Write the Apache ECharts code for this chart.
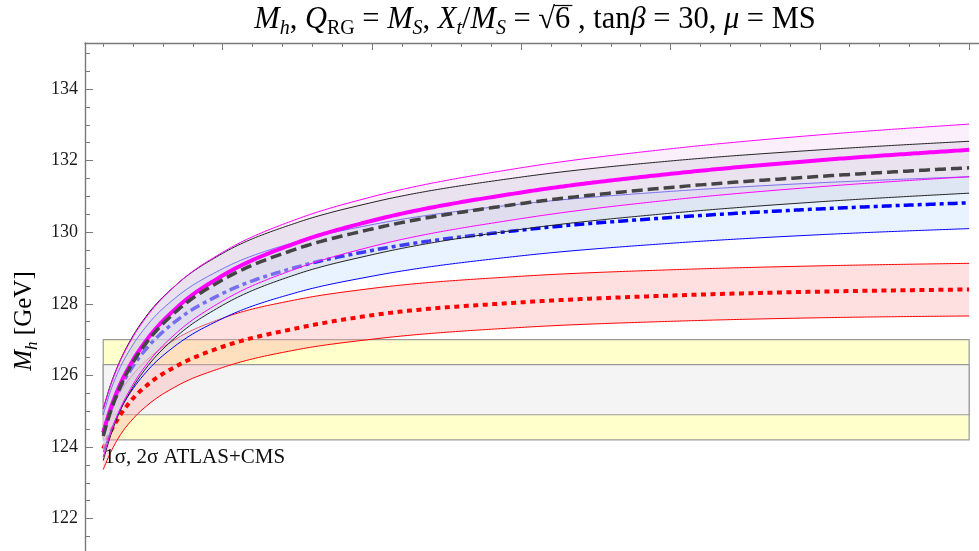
<!DOCTYPE html>
<html>
<head>
<meta charset="utf-8">
<script src="https://cdn.jsdelivr.net/npm/echarts@6/dist/echarts.min.js"></script>
<style>
  html, body { margin: 0; padding: 0; background: #fff; }
  #chart { width: 979px; height: 551px; }
</style>
</head>
<body>
<div id="chart"></div>
<script>
// SUSY scale M_S (TeV) at which every curve is sampled
const msTeV = [0.2, 0.25, 0.3, 0.4, 0.5, 0.7, 1.0, 1.5, 2.0, 3.0, 4.0, 5.0, 6.0];

// Higgs mass predictions (GeV): central value and uncertainty edges
const magentaUpper   = [125.06, 125.73, 126.27, 127.08, 127.69, 128.57, 129.44, 130.37, 130.99, 131.80, 132.33, 132.72, 133.02];
const magentaCentral = [124.40, 125.08, 125.62, 126.43, 127.04, 127.92, 128.79, 129.71, 130.32, 131.11, 131.63, 132.01, 132.30];
const magentaLower   = [123.72, 124.40, 124.94, 125.75, 126.36, 127.22, 128.08, 128.99, 129.60, 130.38, 130.90, 131.27, 131.55];

const blackUpper   = [125.06, 125.75, 126.29, 127.11, 127.72, 128.57, 129.41, 130.27, 130.83, 131.54, 131.99, 132.30, 132.54];
const blackCentral = [124.31, 125.00, 125.55, 126.37, 126.97, 127.83, 128.67, 129.54, 130.09, 130.80, 131.25, 131.56, 131.80];
const blackLower   = [123.62, 124.32, 124.88, 125.68, 126.27, 127.12, 127.96, 128.83, 129.37, 130.08, 130.53, 130.85, 131.09];

const blueUpper   = [124.90, 125.58, 126.10, 126.86, 127.43, 128.22, 128.98, 129.74, 130.21, 130.79, 131.14, 131.38, 131.55];
const blueCentral = [124.40, 125.03, 125.53, 126.26, 126.80, 127.56, 128.29, 129.03, 129.49, 130.06, 130.41, 130.65, 130.82];
const blueLower   = [123.86, 124.45, 124.93, 125.63, 126.15, 126.88, 127.59, 128.32, 128.77, 129.34, 129.69, 129.93, 130.10];

const redUpper   = [124.50, 125.02, 125.44, 126.03, 126.46, 127.05, 127.60, 128.12, 128.43, 128.77, 128.95, 129.06, 129.13];
const redCentral = [123.95, 124.43, 124.80, 125.36, 125.75, 126.28, 126.80, 127.32, 127.68, 128.04, 128.23, 128.34, 128.40];
const redLower   = [123.37, 123.85, 124.24, 124.79, 125.18, 125.72, 126.22, 126.72, 127.01, 127.34, 127.51, 127.61, 127.66];

// Measured Higgs mass ranges (GeV) and the M_S span they are drawn over
const sigma2Range = [124.2, 127.0];
const sigma1Range = [124.9, 126.3];
const bandMs = [0.2, 6.0];
const bandNote = '1σ, 2σ ATLAS+CMS';
const bandNoteAt = [0.2, 123.72];

// Axis ranges and ticks
const xMin = 0.078, xMax = 6.066;
const yMin = 119.726, yMax = 135.285;
const xMajorTicks = [1, 2, 3, 4, 5, 6];
const yMajorTicks = [120, 122, 124, 126, 128, 130, 132, 134];
const xMinorTicks = [];
for (let k = 1; k <= 30; k++) if (k % 5) xMinorTicks.push(Math.round(k * 2) / 10);
const yMinorTicks = [];
for (let k = 0; k <= 30; k++) { const v = 120 + k * 0.5; if (v % 2) yMinorTicks.push(v); }

const SERIF = '"Liberation Serif", "Times New Roman", serif';
const AXIS_GREY = '#7a7a7a';

// ---- monotone cubic path through pixel points (same curve for fills and strokes) ----
function slopeAt(h0, h1, s0, s1) {
  const p = (s0 * h1 + s1 * h0) / (h0 + h1);
  return (Math.sign(s0) + Math.sign(s1)) * Math.min(Math.abs(s0), Math.abs(s1), 0.5 * Math.abs(p)) || 0;
}
function smoothPath(px) {
  const n = px.length;
  const h = [], s = [];
  for (let i = 0; i < n - 1; i++) {
    h[i] = px[i + 1][0] - px[i][0];
    s[i] = (px[i + 1][1] - px[i][1]) / h[i];
  }
  const m = new Array(n);
  for (let i = 1; i < n - 1; i++) m[i] = slopeAt(h[i - 1], h[i], s[i - 1], s[i]);
  m[0] = (3 * s[0] - m[1]) / 2;
  m[n - 1] = (3 * s[n - 2] - m[n - 2]) / 2;
  const out = [px[0].slice()];
  for (let i = 0; i < n - 1; i++) {
    const steps = Math.max(6, Math.ceil(h[i] / 3));
    for (let k = 1; k <= steps; k++) {
      const t = k / steps, t2 = t * t, t3 = t2 * t;
      const y = (2 * t3 - 3 * t2 + 1) * px[i][1] + (t3 - 2 * t2 + t) * h[i] * m[i]
              + (-2 * t3 + 3 * t2) * px[i + 1][1] + (t3 - t2) * h[i] * m[i + 1];
      out.push([px[i][0] + t * h[i], y]);
    }
  }
  return out;
}
function toPx(api, vals) { return msTeV.map((m, i) => api.coord([m, vals[i]])); }

// ---- series helpers ----
function curve(vals, color, width, dash) {
  return {
    type: 'custom', silent: true, animation: false, clip: true, data: [[0]],
    renderItem: (params, api) => ({
      type: 'polyline',
      shape: { points: smoothPath(toPx(api, vals)) },
      style: { fill: null, stroke: color, lineWidth: width, lineDash: dash || null,
               lineCap: 'butt', lineJoin: 'round' }
    })
  };
}
function fill(lower, upper, color) {
  return {
    type: 'custom', silent: true, animation: false, clip: true, data: [[0]],
    renderItem: (params, api) => ({
      type: 'polygon',
      shape: { points: smoothPath(toPx(api, upper)).concat(smoothPath(toPx(api, lower)).reverse()) },
      style: { fill: color, stroke: null }
    })
  };
}

// ---- text typesetting (italics, subscripts, overline) ----
const meas = document.createElement('canvas').getContext('2d');
function fontOf(size, italic) { return (italic ? 'italic ' : '') + size + 'px ' + SERIF; }
function typeset(segs, size, subSize, subDrop, color) {
  let x = 0; const children = []; const overs = [];
  for (const s of segs) {
    const sz = s.sub ? subSize : size;
    const font = fontOf(sz, s.it);
    meas.font = font;
    const w = meas.measureText(s.t).width;
    const baseY = s.sub ? subDrop : 0;
    children.push({
      type: 'text', x: x, y: baseY - 0.34 * sz, silent: true,
      style: { text: s.t, font: font, fill: color, align: 'left', textAlign: 'left',
               verticalAlign: 'middle', textVerticalAlign: 'middle' }
    });
    if (s.over) overs.push([x, x + w]);
    x += w;
  }
  children.forEach(c => { c.x -= x / 2; });
  return { children, width: x, overs: overs.map(o => [o[0] - x / 2, o[1] - x / 2]) };
}

const titleSegs = [
  { t: 'M', it: true }, { t: 'h', it: true, sub: true }, { t: ', ' },
  { t: 'Q', it: true }, { t: 'RG', sub: true }, { t: ' = ' },
  { t: 'M', it: true }, { t: 'S', it: true, sub: true }, { t: ', ' },
  { t: 'X', it: true }, { t: 't', it: true, sub: true }, { t: '/' },
  { t: 'M', it: true }, { t: 'S', it: true, sub: true }, { t: ' = ' },
  { t: '√' }, { t: '6', over: true }, { t: ' , tan' }, { t: 'β', it: true },
  { t: ' = 30, ' }, { t: 'μ', it: true }, { t: ' = MS' }
];
const title = typeset(titleSegs, 30.5, 20, 5.5, '#000');
title.overs.forEach(o => title.children.push({
  type: 'line', silent: true,
  shape: { x1: o[0] - 1, y1: -24.5, x2: o[1] + 2, y2: -24.5 },
  style: { stroke: '#000', lineWidth: 1.2 }
}));

const yLabel = typeset([{ t: 'M', it: true }, { t: 'h', it: true, sub: true }, { t: ' [GeV]' }], 25, 17, 5, '#000');

// ---- chart ----
const chart = echarts.init(document.getElementById('chart'), null, { renderer: 'canvas' });

const bandRects = [
  [bandMs[0], bandMs[1], sigma2Range[0], sigma2Range[1]],
  [bandMs[0], bandMs[1], sigma1Range[0], sigma1Range[1]]
];
const bandFills = ['#ffffcc', '#f4f4f4'];

const series = [
  {
    type: 'custom', silent: true, animation: false, data: bandRects,
    renderItem: (params, api) => {
      const p0 = api.coord([api.value(0), api.value(3)]);
      const p1 = api.coord([api.value(1), api.value(2)]);
      return {
        type: 'rect',
        shape: { x: p0[0], y: p0[1], width: p1[0] - p0[0], height: p1[1] - p0[1] },
        style: { fill: bandFills[params.dataIndex], stroke: '#9a9a9a', lineWidth: 1.2 }
      };
    }
  },
  // red band
  fill(redLower, redUpper, 'rgba(255,165,165,0.34)'),
  curve(redUpper, '#ff0000', 1),
  curve(redLower, '#ff0000', 1),
  curve(redCentral, '#ff0000', 4, [5, 4.5]),
  // blue band
  fill(blueLower, blueUpper, 'rgba(200,225,255,0.4)'),
  curve(blueUpper, '#0000ff', 1),
  curve(blueLower, '#0000ff', 1),
  curve(blueCentral, '#0000ff', 3.5, [10, 4, 4, 4]),
  // magenta and black bands
  fill(magentaLower, magentaUpper, 'rgba(240,210,240,0.35)'),
  fill(blackLower, blackUpper, 'rgba(200,200,215,0.3)'),
  curve(blackUpper, '#222222', 1),
  curve(blackLower, '#222222', 1),
  curve(magentaUpper, '#ff00ff', 1),
  curve(magentaLower, '#ff00ff', 1),
  curve(magentaCentral, '#ff00ff', 4),
  curve(blackCentral, '#444444', 3.5, [11, 5]),
  // band note
  {
    type: 'custom', silent: true, animation: false, data: [bandNoteAt],
    renderItem: (params, api) => {
      const p = api.coord([api.value(0), api.value(1)]);
      return {
        type: 'text', x: p[0] + 1, y: p[1],
        style: { text: bandNote, font: '21px ' + SERIF, fill: '#111',
                 align: 'left', textAlign: 'left', verticalAlign: 'middle', textVerticalAlign: 'middle' }
      };
    }
  }
];

const option = {
  animation: false,
  backgroundColor: '#ffffff',
  grid: { left: 85, top: 43, right: 0, bottom: -49, containLabel: false, outerBoundsMode: 'none' },
  xAxis: [
    {
      type: 'value', position: 'top', min: xMin, max: xMax,
      axisLine: { show: true, onZero: false, lineStyle: { color: AXIS_GREY, width: 1.4 } },
      axisTick: { show: true, inside: true, length: 7, customValues: xMajorTicks, lineStyle: { color: AXIS_GREY, width: 1 } },
      axisLabel: { show: false }, splitLine: { show: false }
    },
    {
      type: 'value', position: 'top', min: xMin, max: xMax,
      axisLine: { show: false, onZero: false },
      axisTick: { show: true, inside: true, length: 4, customValues: xMinorTicks, lineStyle: { color: AXIS_GREY, width: 1 } },
      axisLabel: { show: false }, splitLine: { show: false }
    }
  ],
  yAxis: [
    {
      type: 'value', position: 'left', min: yMin, max: yMax,
      axisLine: { show: true, onZero: false, lineStyle: { color: AXIS_GREY, width: 1.4 } },
      axisTick: { show: true, inside: true, length: 8, customValues: yMajorTicks, lineStyle: { color: AXIS_GREY, width: 1 } },
      axisLabel: { show: true, customValues: yMajorTicks, margin: 7, fontFamily: SERIF, fontSize: 18, color: '#1a1a1a',
                   formatter: v => String(v) },
      splitLine: { show: false }
    },
    {
      type: 'value', position: 'left', min: yMin, max: yMax,
      axisLine: { show: false, onZero: false },
      axisTick: { show: true, inside: true, length: 5, customValues: yMinorTicks, lineStyle: { color: AXIS_GREY, width: 1 } },
      axisLabel: { show: false }, splitLine: { show: false }
    }
  ],
  graphic: [
    { type: 'group', x: 535, y: 30, silent: true, children: title.children },
    { type: 'group', x: 25, y: 321, rotation: Math.PI / 2, silent: true,
      children: yLabel.children.map(c => Object.assign({}, c, { y: c.y + 8 })) }
  ],
  series: series
};

chart.setOption(option);
</script>
</body>
</html>
